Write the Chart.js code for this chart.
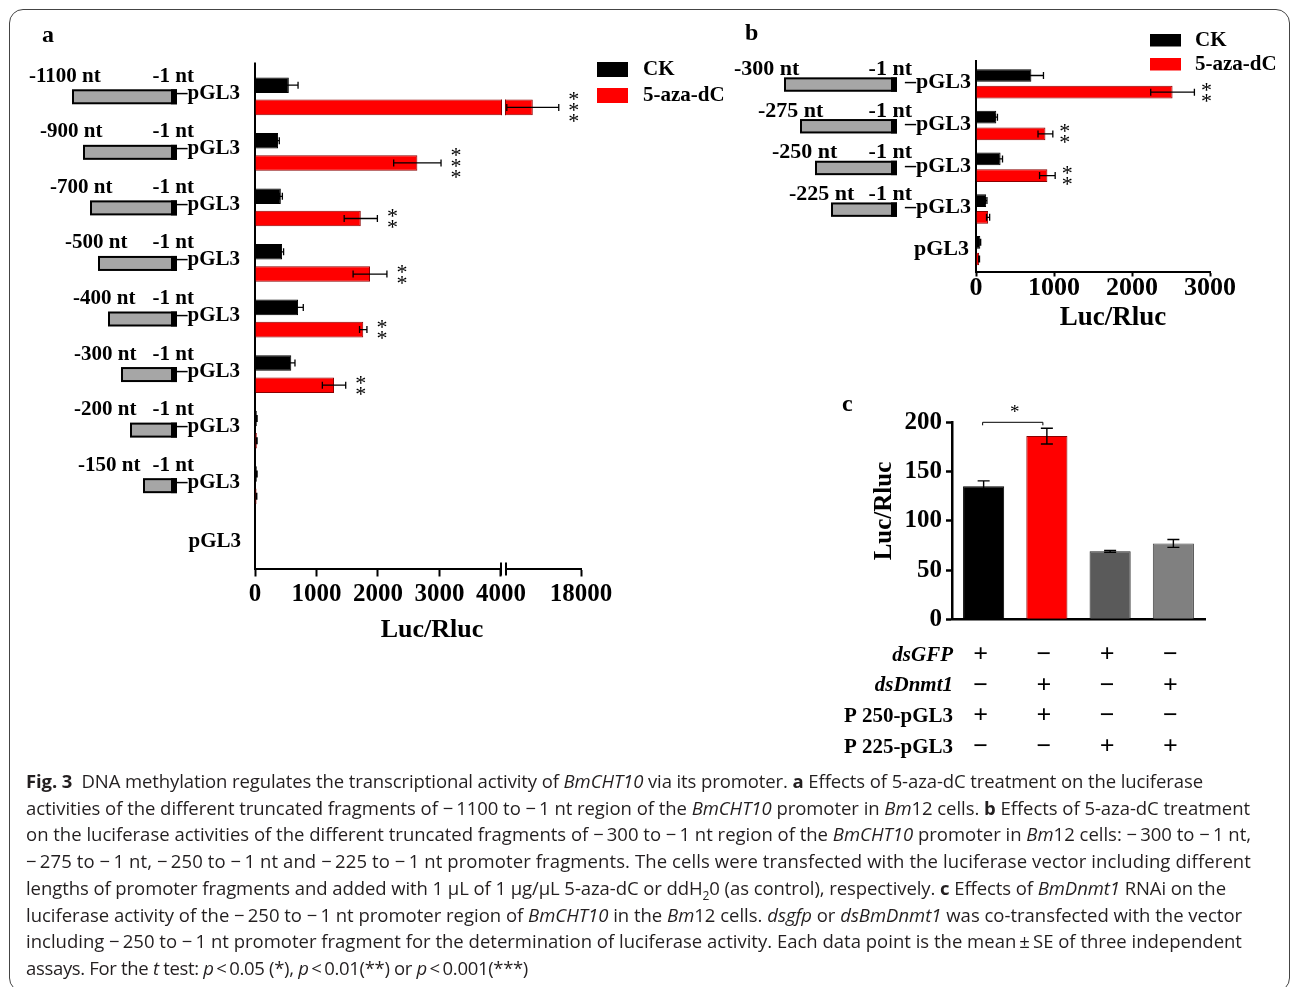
<!DOCTYPE html>
<html>
<head>
<meta charset="utf-8">
<script src="https://cdn.jsdelivr.net/npm/chart.js@4.4.0/dist/chart.umd.min.js"></script>
<style>
html, body { margin: 0; padding: 0; background: #fff; width: 1292px; height: 987px; overflow: hidden; position: relative; }
#frame { position: absolute; left: 9px; top: 9px; width: 1281px; height: 983px; border: 1px solid #444; border-radius: 14px; box-sizing: border-box; }
canvas { position: absolute; }
#cA { left: 0; top: 0; }
#cB { left: 730px; top: 0; }
#cC { left: 830px; top: 380px; }
#cap { position: absolute; left: 26px; top: 768px; font-family: 'Open Sans', sans-serif; font-size: 18.5px; color: #231f20; line-height: 26.7px; }
#cap .l { white-space: nowrap; display: inline-block; }
</style>
</head>
<body>
<div id="frame"></div>
<canvas id="cA" width="740" height="660"></canvas>
<canvas id="cB" width="562" height="340"></canvas>
<canvas id="cC" width="420" height="390"></canvas>
<div id="cap">
<span class="l"><b>Fig. 3</b>&ensp;DNA methylation regulates the transcriptional activity of <i>BmCHT10</i> via its promoter. <b>a</b> Effects of 5-aza-dC treatment on the luciferase</span><br>
<span class="l">activities of the different truncated fragments of &minus;&thinsp;1100 to &minus;&thinsp;1 nt region of the <i>BmCHT10</i> promoter in <i>Bm</i>12 cells. <b>b</b> Effects of 5-aza-dC treatment</span><br>
<span class="l">on the luciferase activities of the different truncated fragments of &minus;&thinsp;300 to &minus;&thinsp;1 nt region of the <i>BmCHT10</i> promoter in <i>Bm</i>12 cells: &minus;&thinsp;300 to &minus;&thinsp;1 nt,</span><br>
<span class="l">&minus;&thinsp;275 to &minus;&thinsp;1 nt, &minus;&thinsp;250 to &minus;&thinsp;1 nt and &minus;&thinsp;225 to &minus;&thinsp;1 nt promoter fragments. The cells were transfected with the luciferase vector including different</span><br>
<span class="l">lengths of promoter fragments and added with 1 μL of 1 μg/μL 5-aza-dC or ddH<sub style="font-size:12px;line-height:0">2</sub>0 (as control), respectively. <b>c</b> Effects of <i>BmDnmt1</i> RNAi on the</span><br>
<span class="l">luciferase activity of the &minus;&thinsp;250 to &minus;&thinsp;1 nt promoter region of <i>BmCHT10</i> in the <i>Bm</i>12 cells. <i>dsgfp</i> or <i>dsBmDnmt1</i> was co-transfected with the vector</span><br>
<span class="l">including &minus;&thinsp;250 to &minus;&thinsp;1 nt promoter fragment for the determination of luciferase activity. Each data point is the mean&thinsp;&plusmn;&thinsp;SE of three independent</span><br>
<span class="l">assays. For the <i>t</i> test: <i>p</i>&thinsp;&lt;&thinsp;0.05 (*), <i>p</i>&thinsp;&lt;&thinsp;0.01(**) or <i>p</i>&thinsp;&lt;&thinsp;0.001(***)</span>
</div>
<script>
// ---- panel a: 5-aza-dC on -1100..-1 nt fragments
const fragmentsA = ['-1100 nt', '-900 nt', '-700 nt', '-500 nt', '-400 nt', '-300 nt', '-200 nt', '-150 nt', 'pGL3'];
const ckA = [550, 375, 420, 440, 700, 590, 30, 30, 0];
const ckErrA = [150, 20, 25, 25, 85, 60, 4, 4, 0];
const azaA = [9000, 2640, 1720, 1870, 1760, 1285, 30, 25, 0];
const azaErrA = [4850, 385, 270, 275, 60, 190, 4, 4, 0];
const starsA = [3, 3, 2, 2, 2, 2, 0, 0, 0];
const ticksA = [0, 1000, 2000, 3000, 4000, 18000];

// ---- panel b: 5-aza-dC on -300..-1 nt fragments
const fragmentsB = ['-300 nt', '-275 nt', '-250 nt', '-225 nt', 'pGL3'];
const ckB = [710, 260, 315, 130, 55];
const ckErrB = [155, 15, 25, 10, 5];
const azaB = [2520, 890, 915, 155, 40];
const azaErrB = [280, 95, 100, 20, 5];
const starsB = [2, 2, 2, 0, 0];

// ---- panel c: BmDnmt1 RNAi
const groupsC = ['dsGFP + P250', 'dsDnmt1 + P250', 'dsGFP + P225', 'dsDnmt1 + P225'];
const valuesC = [135, 186, 69, 77];
const errC = [5.5, 8, 1, 4];
const rowLabelsC = ['dsGFP', 'dsDnmt1', 'P 250-pGL3', 'P 225-pGL3'];
const signsC = [
  ['+', '\u2212', '+', '\u2212'],
  ['\u2212', '+', '\u2212', '+'],
  ['+', '+', '\u2212', '\u2212'],
  ['\u2212', '\u2212', '+', '+']
];

// layout bits for the promoter drawings (pixels)
const boxLeftA = [73, 84, 91, 99, 109, 122, 131, 144];
const labelLeftA = [29, 40, 50, 65, 73, 74, 74, 78];
const boxLeftB = [55, 71, 86, 102];
const labelLeftB = [4, 28, 42, 59];

const SERIF = "'Liberation Serif','Times New Roman',serif";
const RED = '#ff0000', RED_EDGE = '#8a0000';

function text(ctx, s, x, y, size, o) {
  o = o || {};
  ctx.save();
  ctx.font = (o.italic ? 'italic ' : '') + (o.weight || 'bold') + ' ' + size + 'px ' + SERIF;
  ctx.fillStyle = '#000';
  ctx.textAlign = o.align || 'left';
  ctx.textBaseline = o.baseline || 'middle';
  ctx.fillText(s, x, y);
  ctx.restore();
}

function stars(ctx, n, x, yc) {
  const gap = 11;
  for (let k = 0; k < n; k++) {
    const y = yc - (n - 1) * gap / 2 + k * gap;
    text(ctx, '*', x, y + 10, 22, { align: 'center', baseline: 'alphabetic', weight: 'normal' });
  }
}

function hErrors(chart, errSets) {
  const ctx = chart.ctx, xs = chart.scales.x;
  ctx.save();
  ctx.strokeStyle = '#000';
  ctx.lineWidth = 1.3;
  chart.data.datasets.forEach((ds, di) => {
    chart.getDatasetMeta(di).data.forEach((bar, i) => {
      const e = errSets[di][i];
      if (!e) return;
      const v = ds.data[i];
      const x1 = xs.getPixelForValue(Math.max(0, v - e)), x2 = xs.getPixelForValue(v + e), y = bar.y;
      ctx.beginPath();
      ctx.moveTo(x1, y); ctx.lineTo(x2, y);
      ctx.moveTo(x1, y - 3.5); ctx.lineTo(x1, y + 3.5);
      ctx.moveTo(x2, y - 3.5); ctx.lineTo(x2, y + 3.5);
      ctx.stroke();
    });
  });
  ctx.restore();
}

function legend(chart, x, y0, dy, w, h, tx) {
  const ctx = chart.ctx;
  chart.data.datasets.forEach((ds, i) => {
    ctx.fillStyle = ds.backgroundColor;
    ctx.fillRect(x, y0 + i * dy, w, h);
    text(ctx, ds.label, tx, y0 + i * dy + h / 2, 21);
  });
}

function promoter(ctx, yc, boxLeft, boxRight, h) {
  ctx.save();
  ctx.fillStyle = '#a6a6a6';
  ctx.fillRect(boxLeft, yc - h / 2, boxRight - boxLeft, h);
  ctx.strokeStyle = '#000';
  ctx.lineWidth = 2;
  ctx.strokeRect(boxLeft, yc - h / 2, boxRight - boxLeft, h);
  ctx.fillStyle = '#000';
  ctx.fillRect(boxRight - 5, yc - h / 2 - 1, 6, h + 2);
  ctx.restore();
}

// broken axis for panel a: 0-4000 then a jump up to 18000
const BREAK_AT = 4000, AXIS_MAX_A = 18000, BREAK_FRAC = 0.7546, RESUME_FRAC = 0.7699;
class BrokenLinearScale extends Chart.LinearScale {
  getPixelForValue(value) {
    const d = value <= BREAK_AT
      ? value / BREAK_AT * BREAK_FRAC
      : RESUME_FRAC + (value - BREAK_AT) / (AXIS_MAX_A - BREAK_AT) * (1 - RESUME_FRAC);
    return this.getPixelForDecimal(d);
  }
  getValueForPixel(pixel) {
    const d = this.getDecimalForPixel(pixel);
    return d <= BREAK_FRAC ? d / BREAK_FRAC * BREAK_AT
      : BREAK_AT + (d - RESUME_FRAC) / (1 - RESUME_FRAC) * (AXIS_MAX_A - BREAK_AT);
  }
}
BrokenLinearScale.id = 'brokenLinear';
BrokenLinearScale.defaults = Chart.LinearScale.defaults;
Chart.register(BrokenLinearScale);

Chart.defaults.animation = false;
Chart.defaults.font.family = SERIF;
Chart.defaults.color = '#000';

const tickFont = (size) => ({ family: SERIF, size: size, weight: 'bold', lineHeight: 1 });

// ---------- chart a
new Chart(document.getElementById('cA'), {
  type: 'bar',
  data: {
    labels: fragmentsA,
    datasets: [
      { label: 'CK', data: ckA, backgroundColor: '#000', borderColor: '#000', borderWidth: 1 },
      { label: '5-aza-dC', data: azaA, backgroundColor: RED, borderColor: RED_EDGE, borderWidth: 1 }
    ]
  },
  options: {
    responsive: false,
    indexAxis: 'y',
    categoryPercentage: 0.8,
    barPercentage: 0.7,
    layout: { padding: { left: 0, top: 68.5, right: 159, bottom: 0 } },
    plugins: { legend: { display: false }, tooltip: { enabled: false } },
    scales: {
      y: {
        type: 'category',
        ticks: { display: false },
        grid: { display: false },
        border: { display: true, color: '#000', width: 2 },
        afterFit: s => { s.width = 255; }
      },
      x: {
        type: 'brokenLinear',
        min: 0, max: AXIS_MAX_A,
        afterBuildTicks: s => { s.ticks = ticksA.map(v => ({ value: v })); },
        ticks: { autoSkip: false, maxRotation: 0, padding: 6, font: tickFont(25), callback: v => String(v) },
        grid: { display: true, drawOnChartArea: false, drawTicks: true, tickLength: 8, tickColor: '#000', tickWidth: 2 },
        border: { display: true, color: '#000', width: 2 },
        afterFit: s => { s.height = 660 - 568.5; }
      }
    }
  },
  plugins: [{
    id: 'panelA',
    afterDatasetsDraw(chart) {
      const ctx = chart.ctx, xs = chart.scales.x, a = chart.chartArea;
      const xb1 = xs.getPixelForValue(BREAK_AT);
      const xb2 = xb1 + 5;
      ctx.save();
      ctx.fillStyle = '#fff';
      ctx.fillRect(xb1 + 1, a.top - 2, xb2 - xb1 - 2, a.bottom - a.top + 4);
      // bar edges at the gap
      ctx.strokeStyle = RED_EDGE;
      ctx.lineWidth = 1;
      chart.data.datasets.forEach((ds, di) => {
        chart.getDatasetMeta(di).data.forEach((bar, i) => {
          if (ds.data[i] > BREAK_AT) {
            const h = bar.height / 2;
            ctx.beginPath();
            ctx.moveTo(xb1 + 0.5, bar.y - h); ctx.lineTo(xb1 + 0.5, bar.y + h);
            ctx.moveTo(xb2 - 0.5, bar.y - h); ctx.lineTo(xb2 - 0.5, bar.y + h);
            ctx.stroke();
          }
        });
      });
      ctx.restore();
      hErrors(chart, [ckErrA, azaErrA]);
      chart.getDatasetMeta(1).data.forEach((bar, i) => {
        if (!starsA[i]) return;
        const x = xs.getPixelForValue(azaA[i] + azaErrA[i]) + 15;
        stars(ctx, starsA[i], x, bar.y);
      });
    },
    afterDraw(chart) {
      const ctx = chart.ctx, xs = chart.scales.x, ys = chart.scales.y, a = chart.chartArea;
      const xb1 = xs.getPixelForValue(BREAK_AT), xb2 = xb1 + 5;
      ctx.save();
      ctx.strokeStyle = '#000';
      ctx.lineWidth = 2;
      ctx.beginPath();
      ctx.moveTo(xb1, a.bottom - 6); ctx.lineTo(xb1, a.bottom + 7);
      ctx.moveTo(xb2, a.bottom - 6); ctx.lineTo(xb2, a.bottom + 7);
      ctx.moveTo(a.left, a.top); ctx.lineTo(a.left, a.top - 6);
      ctx.stroke();
      ctx.restore();
      // promoter diagrams
      fragmentsA.forEach((f, i) => {
        const yc = ys.getPixelForValue(i);
        if (i === fragmentsA.length - 1) {
          text(ctx, f, 241, yc + 6, 21, { align: 'right', baseline: 'alphabetic' });
          return;
        }
        text(ctx, f, labelLeftA[i], yc - 14.5, 21, { baseline: 'alphabetic' });
        text(ctx, '-1 nt', 194, yc - 14.5, 21, { align: 'right', baseline: 'alphabetic' });
        promoter(ctx, yc + 0.5, boxLeftA[i], 176, 13);
        text(ctx, '\u2013pGL3', 177, yc + 2.5, 21, { baseline: 'alphabetic' });
      });
      legend(chart, 597, 62, 26, 31, 15, 643);
      text(ctx, 'Luc/Rluc', 432, 630, 26, { align: 'center' });
      text(ctx, 'a', 42, 36, 24);
    }
  }]
});

// ---------- chart b
new Chart(document.getElementById('cB'), {
  type: 'bar',
  data: {
    labels: fragmentsB,
    datasets: [
      { label: 'CK', data: ckB, backgroundColor: '#000', borderColor: '#000', borderWidth: 1 },
      { label: '5-aza-dC', data: azaB, backgroundColor: RED, borderColor: RED_EDGE, borderWidth: 1 }
    ]
  },
  options: {
    responsive: false,
    indexAxis: 'y',
    categoryPercentage: 0.8,
    barPercentage: 0.76,
    layout: { padding: { left: 0, top: 63, right: 82, bottom: 0 } },
    plugins: { legend: { display: false }, tooltip: { enabled: false } },
    scales: {
      y: {
        type: 'category',
        ticks: { display: false },
        grid: { display: false },
        border: { display: true, color: '#000', width: 2 },
        afterFit: s => { s.width = 246; }
      },
      x: {
        type: 'linear',
        min: 0, max: 3000,
        ticks: { stepSize: 1000, autoSkip: false, maxRotation: 0, padding: -1, font: tickFont(26), callback: v => String(v) },
        grid: { display: true, drawOnChartArea: false, drawTicks: true, tickLength: 5, tickColor: '#000', tickWidth: 2 },
        border: { display: true, color: '#000', width: 2 },
        afterFit: s => { s.height = 340 - 271.5; }
      }
    }
  },
  plugins: [{
    id: 'panelB',
    afterDatasetsDraw(chart) {
      const xs = chart.scales.x;
      hErrors(chart, [ckErrB, azaErrB]);
      chart.getDatasetMeta(1).data.forEach((bar, i) => {
        if (!starsB[i]) return;
        stars(chart.ctx, starsB[i], xs.getPixelForValue(azaB[i] + azaErrB[i]) + 12, bar.y);
      });
    },
    afterDraw(chart) {
      const ctx = chart.ctx, ys = chart.scales.y, a = chart.chartArea;
      ctx.save();
      ctx.strokeStyle = '#000'; ctx.lineWidth = 2;
      ctx.beginPath(); ctx.moveTo(a.left, a.top); ctx.lineTo(a.left, a.top - 3); ctx.stroke();
      ctx.restore();
      fragmentsB.forEach((f, i) => {
        const yc = ys.getPixelForValue(i);
        if (i === fragmentsB.length - 1) {
          text(ctx, f, 239, yc + 4.5, 22, { align: 'right', baseline: 'alphabetic' });
          return;
        }
        text(ctx, f, labelLeftB[i], yc - 9, 22, { baseline: 'alphabetic' });
        text(ctx, '-1 nt', 182, yc - 9, 22, { align: 'right', baseline: 'alphabetic' });
        promoter(ctx, yc + 0.7, boxLeftB[i], 166, 12.4);
        text(ctx, '\u2013pGL3', 175, yc + 4.5, 22, { baseline: 'alphabetic' });
      });
      legend(chart, 420, 34, 24, 31, 12.5, 465);
      text(ctx, 'Luc/Rluc', 383, 318, 27, { align: 'center' });
      text(ctx, 'b', 15, 34, 24);
    }
  }]
});

// ---------- chart c
new Chart(document.getElementById('cC'), {
  type: 'bar',
  data: {
    labels: groupsC,
    datasets: [{
      label: 'Luc/Rluc',
      data: valuesC,
      backgroundColor: ['#000000', RED, '#5a5a5a', '#808080'],
      borderColor: ['#000000', RED_EDGE, '#222222', '#444444'],
      borderWidth: 1
    }]
  },
  options: {
    responsive: false,
    categoryPercentage: 1,
    barPercentage: 0.65,
    layout: { padding: { left: 0, top: 42.3, right: 45, bottom: 0 } },
    plugins: { legend: { display: false }, tooltip: { enabled: false } },
    scales: {
      x: {
        type: 'category',
        ticks: { display: false },
        grid: { display: false },
        border: { display: true, color: '#000', width: 2.5 },
        afterFit: s => { s.height = 390 - 619.3 + 380; }
      },
      y: {
        min: 0, max: 200,
        ticks: { stepSize: 50, padding: 4, font: tickFont(25) },
        grid: { display: true, drawOnChartArea: false, drawTicks: true, tickLength: 6, tickColor: '#000', tickWidth: 2.5 },
        border: { display: true, color: '#000', width: 2.5 },
        afterFit: s => { s.width = 122; }
      }
    }
  },
  plugins: [{
    id: 'panelC',
    afterDatasetsDraw(chart) {
      const ctx = chart.ctx, ys = chart.scales.y;
      ctx.save();
      ctx.strokeStyle = '#000';
      ctx.lineWidth = 1.4;
      chart.getDatasetMeta(0).data.forEach((bar, i) => {
        const y1 = ys.getPixelForValue(valuesC[i] - errC[i]), y2 = ys.getPixelForValue(valuesC[i] + errC[i]);
        ctx.beginPath();
        ctx.moveTo(bar.x, y1); ctx.lineTo(bar.x, y2);
        ctx.moveTo(bar.x - 6, y1); ctx.lineTo(bar.x + 6, y1);
        ctx.moveTo(bar.x - 6, y2); ctx.lineTo(bar.x + 6, y2);
        ctx.stroke();
      });
      // significance bracket between the first two bars
      const xs = chart.scales.x;
      const bx1 = xs.getPixelForValue(0) - 1, bx2 = xs.getPixelForValue(1) - 4, by = ys.getPixelForValue(200);
      ctx.lineWidth = 1;
      ctx.beginPath();
      ctx.moveTo(bx1, by + 3); ctx.lineTo(bx1, by); ctx.lineTo(bx2, by); ctx.lineTo(bx2, by + 3);
      ctx.stroke();
      ctx.restore();
      text(ctx, '*', (bx1 + bx2) / 2 + 2, by - 4, 19, { align: 'center', baseline: 'alphabetic', weight: 'normal' });
    },
    afterDraw(chart) {
      const ctx = chart.ctx, xs = chart.scales.x, a = chart.chartArea;
      ctx.save();
      ctx.translate(55, 131);
      ctx.rotate(-Math.PI / 2);
      text(ctx, 'Luc/Rluc', 0, 0, 25, { align: 'center' });
      ctx.restore();
      rowLabelsC.forEach((lab, r) => {
        const y = a.bottom + 36 + r * 30.7;
        text(ctx, lab, a.left + 1, y, 21, { align: 'right', italic: r < 2 });
        signsC[r].forEach((s, i) => {
          text(ctx, s, xs.getPixelForValue(i) - 3, y, 26, { align: 'center' });
        });
      });
      text(ctx, 'c', 12, 25, 24);
    }
  }]
});

// caption lines: fit each to the printed line width
const capWidths = [1177, 1224, 1225, 1225, 1200, 1216, 1216, 502];
document.fonts.ready.then(() => {
  document.querySelectorAll('#cap .l').forEach((el, i) => {
    const w = el.getBoundingClientRect().width;
    const n = el.textContent.length;
    el.style.letterSpacing = ((capWidths[i] - w) / n).toFixed(3) + 'px';
  });
});
</script>
</body>
</html>
